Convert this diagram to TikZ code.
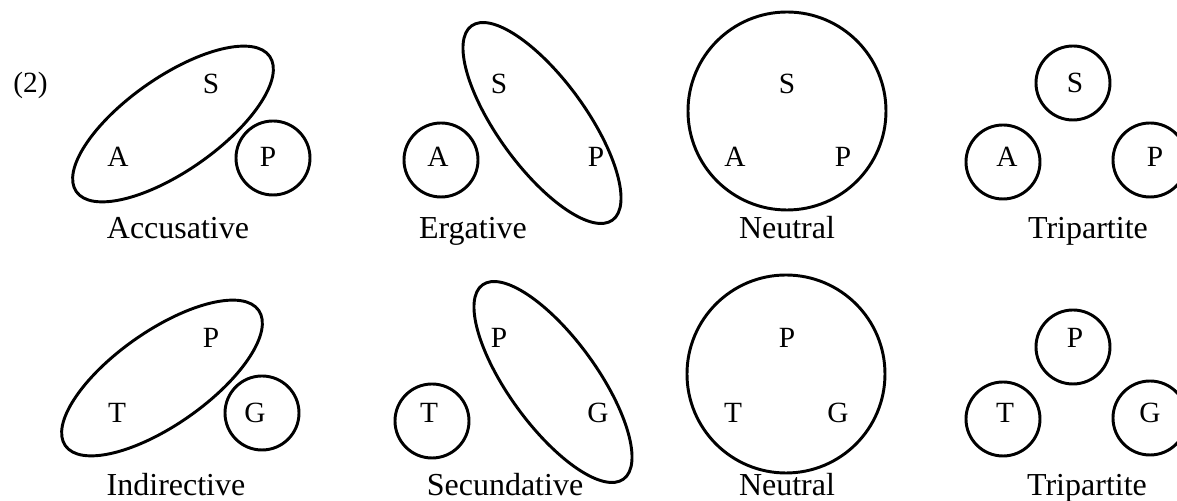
\documentclass[tikz,border=0pt]{standalone}
\usepackage{fontspec}
\setmainfont{Liberation Serif}
\begin{document}
\begin{tikzpicture}[x=0.375pt,y=-0.375pt,line width=1.1pt,
  role/.style={font=\fontsize{11}{13}\selectfont,inner sep=0pt},
  tname/.style={font=\fontsize{12}{14}\selectfont,inner sep=0pt,anchor=base}]
\useasboundingbox (0,0) rectangle (1177,501);
\clip (0,0) rectangle (1177,501);
\node[role,anchor=base west] (num) at (12,93) {(2)};
% accusative
\coordinate (accSet) at (173,124);
\coordinate (accRing) at (273,158);
\draw[rotate around={35:(accSet)}] (accSet) ellipse [x radius=118,y radius=47];
\draw (accRing) circle [radius=37];
\node[role] (accS) at (211,84) {S};
\node[role] (accA) at (118,157) {A};
\node[role] (accP) at (268,157) {P};
\node[tname] (acc) at (178,239) {Accusative};
% ergative
\coordinate (ergSet) at (542,123);
\coordinate (ergRing) at (441,160);
\draw[rotate around={-54:(ergSet)}] (ergSet) ellipse [x radius=120,y radius=44];
\draw (ergRing) circle [radius=37];
\node[role] (ergS) at (499,84) {S};
\node[role] (ergA) at (438,157) {A};
\node[role] (ergP) at (596,157) {P};
\node[tname] (erg) at (473,239) {Ergative};
% neutral
\coordinate (neuSet) at (787,111);
\draw (neuSet) circle [radius=99];
\node[role] (neuS) at (787,84) {S};
\node[role] (neuA) at (735,157) {A};
\node[role] (neuP) at (843,157) {P};
\node[tname] (neu) at (787,239) {Neutral};
% tripartite
\coordinate (triRingS) at (1073,83);
\coordinate (triRingA) at (1003,162);
\coordinate (triRingP) at (1150,160);
\draw (triRingS) circle [radius=37];
\draw (triRingA) circle [radius=37];
\draw (triRingP) circle [radius=37];
\node[role] (triS) at (1075,83) {S};
\node[role] (triA) at (1007,157) {A};
\node[role] (triP) at (1155,157) {P};
\node[tname] (tri) at (1088,239) {Tripartite};
% indirective
\coordinate (indSet) at (162,378);
\coordinate (indRing) at (262,413);
\draw[rotate around={35:(indSet)}] (indSet) ellipse [x radius=118,y radius=47];
\draw (indRing) circle [radius=37];
\node[role] (indP) at (211,338) {P};
\node[role] (indT) at (117,413) {T};
\node[role] (indG) at (255,413) {G};
\node[tname] (ind) at (176,496) {Indirective};
% secundative
\coordinate (secSet) at (553,382);
\coordinate (secRing) at (432,421);
\draw[rotate around={-54:(secSet)}] (secSet) ellipse [x radius=120,y radius=44];
\draw (secRing) circle [radius=37];
\node[role] (secP) at (499,338) {P};
\node[role] (secT) at (429,413) {T};
\node[role] (secG) at (598,413) {G};
\node[tname] (sec) at (505,496) {Secundative};
% neutral
\coordinate (neuSetB) at (786,374);
\draw (neuSetB) circle [radius=99];
\node[role] (neuPB) at (787,338) {P};
\node[role] (neuTB) at (733,413) {T};
\node[role] (neuGB) at (838,413) {G};
\node[tname] (neuB) at (787,496) {Neutral};
% tripartite
\coordinate (triRingPB) at (1073,347);
\coordinate (triRingTB) at (1003,419);
\coordinate (triRingGB) at (1150,418);
\draw (triRingPB) circle [radius=37];
\draw (triRingTB) circle [radius=37];
\draw (triRingGB) circle [radius=37];
\node[role] (triPB) at (1075,338) {P};
\node[role] (triTB) at (1005,413) {T};
\node[role] (triGB) at (1150,413) {G};
\node[tname] (triB) at (1087,496) {Tripartite};
\end{tikzpicture}
\end{document}
